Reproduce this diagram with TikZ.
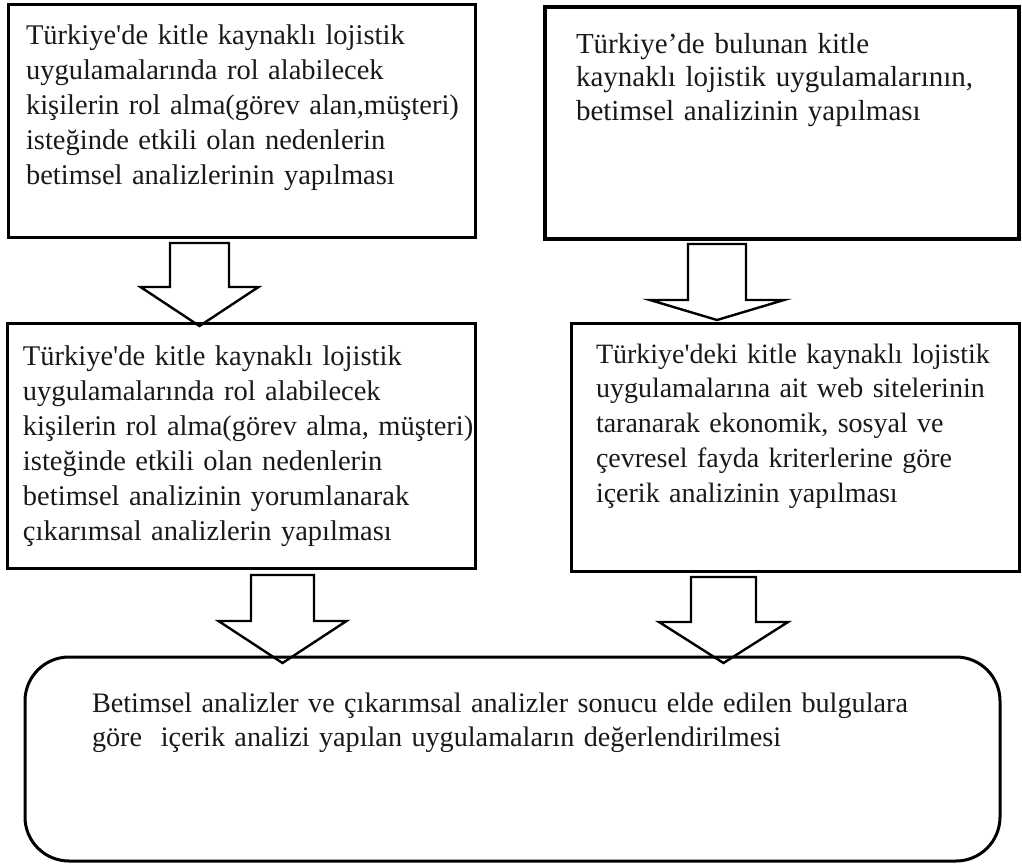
\documentclass[tikz,border=0pt]{standalone}
\usepackage{fontspec}
\setmainfont{Liberation Serif}[Ligatures=TeXOff]
\usetikzlibrary{calc}

% hollow block arrow: #1 top of shaft, #2 tip, #3 shaft half width,
% #4 head half width, #5 head length
\newcommand{\hollowarrow}[5]{%
  \draw[blockarrow] ($(#1)+(-#3,0)$) -- ($(#2)+(-#3,-#5)$) -- ($(#2)+(-#4,-#5)$)
    -- (#2) -- ($(#2)+(#4,-#5)$) -- ($(#2)+(#3,-#5)$) -- ($(#1)+(#3,0)$) -- cycle;}

\begin{document}
\begin{tikzpicture}[x=1pt,y=-1pt,
  box/.style={draw=black,line width=3pt,inner sep=0pt,outer sep=0pt,anchor=north west},
  boxtext/.style={anchor=base west,inner sep=0pt,outer sep=0pt,align=left,text=black!90},
  blockarrow/.style={draw=black,line width=2.4pt,line join=miter}]
\useasboundingbox (0,0) rectangle (1022,867);

% frames
\node[box,minimum width=467pt,minimum height=232pt] (b1) at (8,5) {};
\node[box,line width=3.6pt,minimum width=474pt,minimum height=232pt] (b2) at (545,7) {};
\node[box,minimum width=468pt,minimum height=245pt] (b3) at (7,323) {};
\node[box,minimum width=448pt,minimum height=248pt] (b4) at (571,323) {};
\node[box,rounded corners=44pt,minimum width=975pt,minimum height=204pt] (b5) at (25,657) {};

% texts
\node[boxtext,text width=520pt,font=\fontsize{28.5}{35}\selectfont] (t1) at (26,45)
  {Türkiye'de kitle kaynaklı lojistik\\
   uygulamalarında rol alabilecek\\
   kişilerin rol alma(görev alan,müşteri)\\
   isteğinde etkili olan nedenlerin\\
   betimsel analizlerinin yapılması};
\node[boxtext,text width=520pt,font=\fontsize{29}{33.5}\selectfont] (t2) at (576,53)
  {Türkiye’de bulunan kitle\\
   kaynaklı lojistik uygulamalarının,\\
   betimsel analizinin yapılması};
\node[boxtext,text width=520pt,font=\fontsize{28.5}{35}\selectfont] (t3) at (23,365)
  {Türkiye'de kitle kaynaklı lojistik\\
   uygulamalarında rol alabilecek\\
   kişilerin rol alma(görev alma, müşteri)\\
   isteğinde etkili olan nedenlerin\\
   betimsel analizinin yorumlanarak\\
   çıkarımsal analizlerin yapılması};
\node[boxtext,text width=520pt,font=\fontsize{28}{34.75}\selectfont] (t4) at (596,363)
  {Türkiye'deki kitle kaynaklı lojistik\\
   uygulamalarına ait web sitelerinin\\
   taranarak ekonomik, sosyal ve\\
   çevresel fayda kriterlerine göre\\
   içerik analizinin yapılması};
\node[boxtext,text width=950pt,font=\fontsize{28.2}{34}\selectfont] (t5) at (92,712)
  {Betimsel analizler ve çıkarımsal analizler sonucu elde edilen bulgulara\\
   göre\ \ içerik analizi yapılan uygulamaların değerlendirilmesi};

% arrow end points
\coordinate (a1s) at ($(b1.south west)+(191.5,6)$);
\coordinate (a1e) at ($(b3.north west)+(192.5,3)$);
\coordinate (a2s) at ($(b2.south west)+(172,5)$);
\coordinate (a2e) at ($(b4.north west)+(146,-3)$);
\coordinate (a3s) at ($(b3.south west)+(275.5,7)$);
\coordinate (a3e) at ($(b5.north west)+(257.5,6)$);
\coordinate (a4s) at ($(b4.south west)+(152.5,6)$);
\coordinate (a4e) at ($(b5.north west)+(698.5,6)$);

% arrows
\hollowarrow{a1s}{a1e}{29.5}{59}{39}
\hollowarrow{a2s}{a2e}{29}{67}{20}
\hollowarrow{a3s}{a3e}{31.5}{64}{42}
\hollowarrow{a4s}{a4e}{32.5}{64.5}{41}
\end{tikzpicture}
\end{document}
